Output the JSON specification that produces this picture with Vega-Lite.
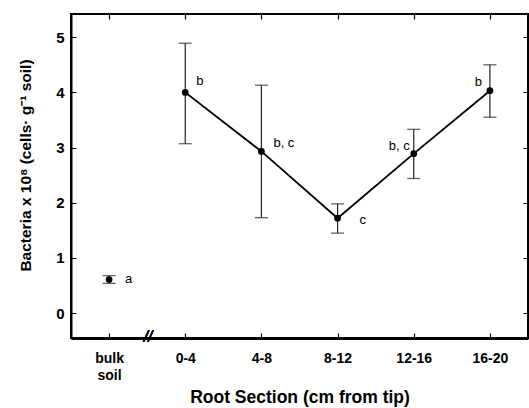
{
  "$schema": "https://vega.github.io/schema/vega-lite/v6.json",
  "width": 457,
  "height": 324,
  "autosize": "none",
  "padding": {"left": 71, "top": 14, "right": 1, "bottom": 70},
  "background": "white",
  "config": {
    "view": {"stroke": "black", "strokeWidth": 2},
    "font": "Liberation Sans",
    "axis": {"domainColor": "black", "tickColor": "black", "labelColor": "black", "titleColor": "black", "labelFont": "Liberation Sans", "titleFont": "Liberation Sans"}
  },
  "data": {
    "values": [
      {"section": "bulk soil", "mean": 0.61, "lo": 0.54, "hi": 0.68, "label": "a"},
      {"section": "0-4", "mean": 4.0, "lo": 3.07, "hi": 4.89, "label": "b"},
      {"section": "4-8", "mean": 2.93, "lo": 1.73, "hi": 4.13, "label": "b, c"},
      {"section": "8-12", "mean": 1.72, "lo": 1.45, "hi": 1.98, "label": "c"},
      {"section": "12-16", "mean": 2.89, "lo": 2.44, "hi": 3.33, "label": "b, c"},
      {"section": "16-20", "mean": 4.03, "lo": 3.55, "hi": 4.5, "label": "b"}
    ]
  },
  "resolve": {"axis": {"x": "independent", "y": "independent"}},
  "layer": [
    {
      "mark": {"type": "rule", "stroke": "#222", "strokeWidth": 1.2},
      "encoding": {
        "x": {"field": "section", "type": "ordinal",
          "sort": ["bulk soil", "0-4", "4-8", "8-12", "12-16", "16-20"],
          "scale": {"type": "point", "padding": 0.5},
          "axis": {"orient": "bottom", "title": "Root Section (cm from tip)", "labelAngle": 0,
            "labelExpr": "datum.value == 'bulk soil' ? ['bulk', 'soil'] : datum.value",
            "labelFontSize": 14, "labelFontWeight": "bold", "labelLineHeight": 17,
            "domainWidth": 3, "ticks": false, "labelPadding": 13,
            "grid": true, "gridColor": "black", "gridOpacity": 1, "gridWidth": 1.2, "gridDash": [5, 314, 5, 2000],
            "titleFontSize": 17.5, "titleFontWeight": "bold", "titlePadding": 6}},
        "y": {"field": "lo", "type": "quantitative",
          "scale": {"domain": [-0.45, 5.42], "nice": false, "zero": false},
          "axis": {"orient": "left", "title": "Bacteria x 10⁸ (cells· g⁻¹ soil)", "values": [0, 1, 2, 3, 4, 5],
            "labelFontSize": 15, "labelFontWeight": "bold", "domainWidth": 2, "ticks": false, "labelPadding": 7,
            "grid": true, "gridColor": "black", "gridOpacity": 1, "gridWidth": 1.2, "gridDash": [5, 447, 5, 2000],
            "titleFontSize": 15.5, "titleFontWeight": "bold", "titleX": -38, "titleY": 151}},
        "y2": {"field": "hi"}
      }
    },
    {
      "mark": {"type": "tick", "color": "#222", "size": 13, "thickness": 1.3},
      "encoding": {
        "x": {"field": "section", "type": "ordinal", "sort": ["bulk soil", "0-4", "4-8", "8-12", "12-16", "16-20"], "axis": null},
        "y": {"field": "lo", "type": "quantitative", "axis": null}
      }
    },
    {
      "mark": {"type": "tick", "color": "#222", "size": 13, "thickness": 1.3},
      "encoding": {
        "x": {"field": "section", "type": "ordinal", "sort": ["bulk soil", "0-4", "4-8", "8-12", "12-16", "16-20"], "axis": null},
        "y": {"field": "hi", "type": "quantitative", "axis": null}
      }
    },
    {
      "transform": [{"filter": "datum.section != 'bulk soil'"}],
      "mark": {"type": "line", "color": "black", "strokeWidth": 1.8},
      "encoding": {
        "x": {"field": "section", "type": "ordinal", "sort": ["bulk soil", "0-4", "4-8", "8-12", "12-16", "16-20"], "axis": null},
        "y": {"field": "mean", "type": "quantitative", "axis": null}
      }
    },
    {
      "mark": {"type": "circle", "color": "black", "opacity": 1, "size": 45},
      "encoding": {
        "x": {"field": "section", "type": "ordinal", "sort": ["bulk soil", "0-4", "4-8", "8-12", "12-16", "16-20"], "axis": null},
        "y": {"field": "mean", "type": "quantitative", "axis": null}
      }
    },
    {
      "transform": [{"filter": "datum.section == 'bulk soil'"}],
      "mark": {"type": "text", "color": "black", "align": "left", "baseline": "middle", "fontSize": 13, "dx": 16, "dy": 0},
      "encoding": {
        "x": {"field": "section", "type": "ordinal", "sort": ["bulk soil", "0-4", "4-8", "8-12", "12-16", "16-20"], "axis": null},
        "y": {"field": "mean", "type": "quantitative", "axis": null},
        "text": {"field": "label"}
      }
    },
    {
      "transform": [{"filter": "datum.section == '0-4'"}],
      "mark": {"type": "text", "color": "black", "align": "left", "baseline": "middle", "fontSize": 13, "dx": 11, "dy": -11},
      "encoding": {
        "x": {"field": "section", "type": "ordinal", "sort": ["bulk soil", "0-4", "4-8", "8-12", "12-16", "16-20"], "axis": null},
        "y": {"field": "mean", "type": "quantitative", "axis": null},
        "text": {"field": "label"}
      }
    },
    {
      "transform": [{"filter": "datum.section == '4-8'"}],
      "mark": {"type": "text", "color": "black", "align": "left", "baseline": "middle", "fontSize": 13, "dx": 12, "dy": -8},
      "encoding": {
        "x": {"field": "section", "type": "ordinal", "sort": ["bulk soil", "0-4", "4-8", "8-12", "12-16", "16-20"], "axis": null},
        "y": {"field": "mean", "type": "quantitative", "axis": null},
        "text": {"field": "label"}
      }
    },
    {
      "transform": [{"filter": "datum.section == '8-12'"}],
      "mark": {"type": "text", "color": "black", "align": "left", "baseline": "middle", "fontSize": 13, "dx": 22, "dy": 2},
      "encoding": {
        "x": {"field": "section", "type": "ordinal", "sort": ["bulk soil", "0-4", "4-8", "8-12", "12-16", "16-20"], "axis": null},
        "y": {"field": "mean", "type": "quantitative", "axis": null},
        "text": {"field": "label"}
      }
    },
    {
      "transform": [{"filter": "datum.section == '12-16'"}],
      "mark": {"type": "text", "color": "black", "align": "right", "baseline": "middle", "fontSize": 13, "dx": -4, "dy": -8},
      "encoding": {
        "x": {"field": "section", "type": "ordinal", "sort": ["bulk soil", "0-4", "4-8", "8-12", "12-16", "16-20"], "axis": null},
        "y": {"field": "mean", "type": "quantitative", "axis": null},
        "text": {"field": "label"}
      }
    },
    {
      "transform": [{"filter": "datum.section == '16-20'"}],
      "mark": {"type": "text", "color": "black", "align": "right", "baseline": "middle", "fontSize": 13, "dx": -8, "dy": -9},
      "encoding": {
        "x": {"field": "section", "type": "ordinal", "sort": ["bulk soil", "0-4", "4-8", "8-12", "12-16", "16-20"], "axis": null},
        "y": {"field": "mean", "type": "quantitative", "axis": null},
        "text": {"field": "label"}
      }
    },
    {
      "mark": {"type": "text", "color": "black", "text": "//", "fontSize": 16, "fontStyle": "italic", "align": "center", "baseline": "middle", "dx": 39, "dy": -1},
      "encoding": {
        "x": {"datum": "bulk soil", "type": "ordinal", "axis": null},
        "y": {"datum": -0.45, "type": "quantitative", "axis": null}
      }
    }
  ]
}
